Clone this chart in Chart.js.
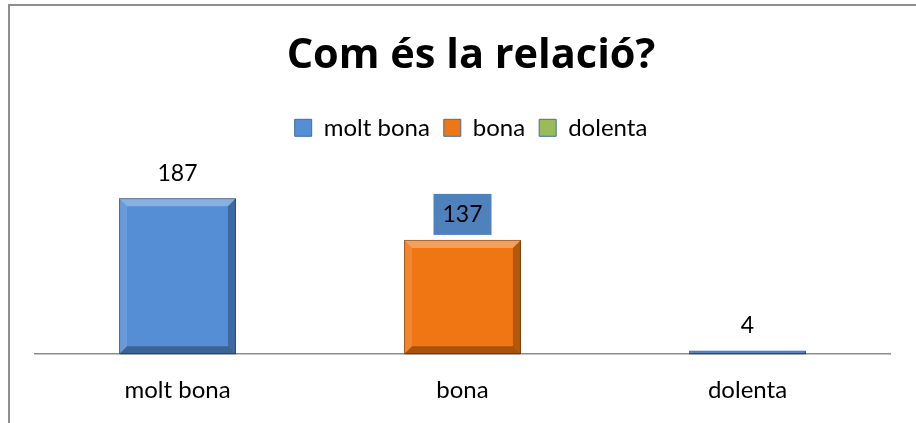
<!DOCTYPE html>
<html>
<head>
<meta charset="utf-8">
<script src="https://cdn.jsdelivr.net/npm/chart.js@4.4.1/dist/chart.umd.min.js"></script>
<style>
    body { margin: 0; background: #fff; }
    #wrap { position: relative; width: 916px; height: 423px; overflow: hidden; }
    #frame { position: absolute; left: 8px; top: 4px; width: 1000px; height: 1000px;
             border-left: 2px solid #8e8e8e; border-top: 2px solid #8e8e8e; }
    #chart { position: absolute; left: 0; top: 0; }
</style>
</head>
<body>
<div id="wrap">
    <div id="frame"></div>
    <canvas id="chart" width="916" height="423"></canvas>
</div>
<script>
const categories = ['molt bona', 'bona', 'dolenta'];
const values = [187, 137, 4];
const legendLabels = ['molt bona', 'bona', 'dolenta'];

const barColors = ['#558ED5', '#F07613', '#558ED5'];
const legendColors = ['#558ED5', '#F07613', '#9BBB59'];
const labelBoxColors = [null, '#4F81BD', null];

const FONT = 'Lato, "Open Sans", sans-serif';

// bevel look of the Excel bars
const bevelPlugin = {
    id: 'bevel',
    afterDatasetsDraw(chart) {
        const ctx = chart.ctx;
        chart.getDatasetMeta(0).data.forEach(bar => {
            const l = bar.x - bar.width / 2, r = bar.x + bar.width / 2;
            const t = bar.y, b = bar.base;
            const s = Math.min(8, (b - t) / 2);
            ctx.save();
            ctx.fillStyle = 'rgba(255,255,255,0.30)';
            ctx.beginPath();
            ctx.moveTo(l, t); ctx.lineTo(r, t); ctx.lineTo(r - s, t + s); ctx.lineTo(l + s, t + s);
            ctx.fill();
            ctx.fillStyle = 'rgba(255,255,255,0.12)';
            ctx.beginPath();
            ctx.moveTo(l, t); ctx.lineTo(l + s, t + s); ctx.lineTo(l + s, b - s); ctx.lineTo(l, b);
            ctx.fill();
            ctx.fillStyle = 'rgba(0,0,0,0.25)';
            ctx.beginPath();
            ctx.moveTo(r, t); ctx.lineTo(r, b); ctx.lineTo(r - s, b - s); ctx.lineTo(r - s, t + s);
            ctx.fill();
            ctx.fillStyle = 'rgba(0,0,0,0.30)';
            ctx.beginPath();
            ctx.moveTo(l, b); ctx.lineTo(r, b); ctx.lineTo(r - s, b - s); ctx.lineTo(l + s, b - s);
            ctx.fill();
            ctx.strokeStyle = 'rgba(0,0,0,0.35)';
            ctx.lineWidth = 1;
            ctx.strokeRect(l + 0.5, t + 0.5, r - l - 1, b - t - 1);
            ctx.restore();
        });
    }
};

// value labels above the bars
const valueLabelPlugin = {
    id: 'valueLabels',
    afterDatasetsDraw(chart) {
        const ctx = chart.ctx;
        ctx.save();
        ctx.font = '23px ' + FONT;
        ctx.textAlign = 'center';
        ctx.textBaseline = 'middle';
        chart.getDatasetMeta(0).data.forEach((bar, i) => {
            const y = bar.y - 25;
            const txt = String(values[i]);
            if (labelBoxColors[i]) {
                const w = ctx.measureText(txt).width + 18;
                ctx.fillStyle = labelBoxColors[i];
                ctx.fillRect(bar.x - w / 2, y - 21, w, 41);
            }
            ctx.fillStyle = '#000';
            ctx.fillText(txt, bar.x, y);
        });
        ctx.restore();
    }
};

new Chart(document.getElementById('chart'), {
    type: 'bar',
    data: {
        labels: categories,
        datasets: [{
            data: values,
            backgroundColor: barColors,
            borderWidth: 0,
            categoryPercentage: 1,
            barPercentage: 0.41
        }]
    },
    options: {
        responsive: false,
        animation: false,
        layout: { padding: { left: 35, right: 9, top: 0, bottom: 4 } },
        plugins: {
            tooltip: { enabled: false },
            title: {
                display: true,
                text: 'Com és la relació?',
                color: '#000',
                font: { family: '"Open Sans", Lato, sans-serif', size: 41.5, weight: 'bold' },
                padding: { top: 31, bottom: 21 }
            },
            legend: {
                display: true,
                labels: {
                    color: '#000',
                    font: { family: FONT, size: 24 },
                    boxWidth: 17,
                    boxHeight: 17,
                    padding: 14,
                    generateLabels: () => legendLabels.map((txt, i) => ({
                        text: txt,
                        fillStyle: legendColors[i],
                        strokeStyle: '#3f6ea8',
                        lineWidth: 1,
                        hidden: false,
                        index: i
                    }))
                },
                onClick: null
            }
        },
        scales: {
            x: {
                grid: { display: false },
                border: { display: true, color: '#8c8c8c', width: 1.5 },
                ticks: { color: '#000', font: { family: FONT, size: 24 }, padding: 14 }
            },
            y: {
                position: 'right',
                min: 0,
                max: 245,
                grid: { display: false },
                border: { display: false },
                ticks: { display: false },
                afterFit: s => { s.width = 17; }
            }
        }
    },
    plugins: [bevelPlugin, valueLabelPlugin]
});
</script>
</body>
</html>
